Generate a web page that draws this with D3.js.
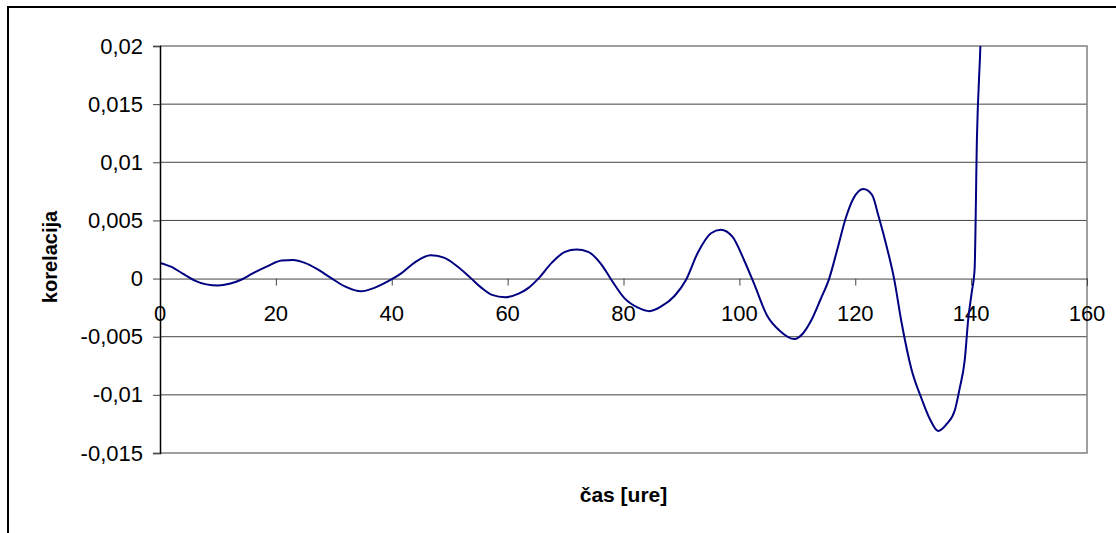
<!DOCTYPE html>
<html>
<head>
  <meta charset="utf-8">
  <style>
    body { margin: 0; background: #fff; }
    text { font-family: "Liberation Sans", Arial, sans-serif; }
  </style>
</head>
<body>
  <script src="https://cdn.jsdelivr.net/npm/d3@7"></script>
  <script>
    // data: time in hours, correlation value
    var hours = [0, 2, 4, 6, 8, 10, 12, 14, 16, 18.5, 21, 23, 25, 27, 29.5, 32, 34.7, 37, 39.4, 41.5,
                 44, 46.7, 49, 51.3, 53.6, 55.5, 57.3, 59.6, 61.9, 63.6, 65.3, 67.6, 69.9, 71.9, 73.9,
                 76.2, 77.9, 80.2, 82.5, 84.5, 86.5, 88.8, 90.8, 92.8, 95.1, 96.8, 98.8, 100.8, 102.5,
                 104.8, 107, 109.5, 111, 112.3, 114, 115.5, 116.9, 118.3, 119.7, 121.4, 122.9, 124,
                 125.4, 126.7, 128, 129.7, 131.5, 132.9, 134.3, 135.8, 137.2, 138, 138.9, 139.5, 140.1,
                 140.6, 141, 141.6, 142.2];
    var korelacija = [0.00135, 0.0010, 0.0004, -0.00017, -0.0005, -0.0006, -0.00045, -0.0001, 0.00045, 0.00105,
                      0.00155, 0.0016, 0.00135, 0.00085, 0.00006, -0.0007, -0.0011, -0.0008, -0.00023, 0.0004,
                      0.0014, 0.002, 0.0018, 0.00106, 0.00006, -0.0008, -0.0014, -0.0016, -0.0013, -0.0008,
                      0, 0.00135, 0.0023, 0.0025, 0.0023, 0.0012, -0.0001, -0.0017, -0.0025, -0.0028,
                      -0.0024, -0.0015, -0.0001, 0.0022, 0.0039, 0.0042, 0.0036, 0.0016, -0.0004, -0.0032,
                      -0.0045, -0.0052, -0.0047, -0.0037, -0.0018, 0, 0.0025, 0.0051, 0.0069, 0.0077,
                      0.0072, 0.0054, 0.0028, 0, -0.0038, -0.0078, -0.0104, -0.0121, -0.0131, -0.0125,
                      -0.0113, -0.0095, -0.007, -0.0035, -0.0012, 0.0008, 0.012, 0.02, 0.03];

    var xTicks = [0, 20, 40, 60, 80, 100, 120, 140, 160];
    var yTicks = [-0.015, -0.01, -0.005, 0, 0.005, 0.01, 0.015, 0.02];
    var yTickLabels = ["-0,015", "-0,01", "-0,005", "0", "0,005", "0,01", "0,015", "0,02"];

    var width = 1116;
    var height = 533;
    var margin = {top: 46, right: 29, bottom: 80, left: 160};

    var x = d3.scaleLinear().domain([0, 160]).range([margin.left, width - margin.right]);
    var y = d3.scaleLinear().domain([-0.015, 0.02]).range([height - margin.bottom, margin.top]);

    var svg = d3.select("body")
                .append("svg")
                .attr("width", width)
                .attr("height", height);

    // outer chart frame (runs off the right/bottom edge)
    svg.append("rect")
       .attr("x", 8).attr("y", 7)
       .attr("width", width + 20).attr("height", height + 20)
       .attr("fill", "none")
       .attr("stroke", "#000")
       .attr("stroke-width", 2);

    // horizontal gridlines
    svg.append("g")
       .selectAll("line")
       .data(yTicks.filter(function (d) { return d !== 0 && d !== -0.015 && d !== 0.02; }))
       .enter()
       .append("line")
       .attr("x1", x(0)).attr("x2", x(160))
       .attr("y1", function (d) { return y(d); })
       .attr("y2", function (d) { return y(d); })
       .attr("stroke", "#444")
       .attr("stroke-width", 1);

    // plot area border: top, right, bottom in grey
    svg.append("path")
       .attr("d", "M" + x(0) + "," + y(0.02) + "H" + x(160) + "V" + y(-0.015) + "H" + x(0))
       .attr("fill", "none")
       .attr("stroke", "#808080")
       .attr("stroke-width", 1.5);

    // X axis along zero
    var x_axis = d3.axisBottom(x).tickValues(xTicks).tickSize(7).tickFormat("");
    var gx = svg.append("g")
       .attr("id", "x_axis")
       .attr("transform", "translate(0," + y(0) + ")")
       .call(x_axis);
    gx.select(".domain").attr("stroke", "#444");
    gx.selectAll(".tick line").attr("stroke", "#444");

    svg.append("g")
       .selectAll("text")
       .data(xTicks)
       .enter()
       .append("text")
       .attr("x", function (d) { return x(d); })
       .attr("y", y(0) + 42)
       .attr("text-anchor", "middle")
       .attr("font-size", 22)
       .text(function (d) { return d; });

    // line
    svg.append("clipPath").attr("id", "clip")
       .append("rect")
       .attr("x", x(0)).attr("y", y(0.02))
       .attr("width", x(160) - x(0)).attr("height", y(-0.015) - y(0.02));

    var points = hours.map(function (h, i) { return [h, korelacija[i]]; });
    var line = d3.line()
                 .x(function (d) { return x(d[0]); })
                 .y(function (d) { return y(d[1]); })
                 .curve(d3.curveMonotoneX);

    svg.append("path")
       .datum(points)
       .attr("clip-path", "url(#clip)")
       .attr("d", line)
       .attr("fill", "none")
       .attr("stroke", "#000080")
       .attr("stroke-width", 2);

    // Y axis
    var y_axis = d3.axisLeft(y).tickValues(yTicks).tickSize(7)
                   .tickFormat(function (d, i) { return yTickLabels[i]; });
    var gy = svg.append("g")
       .attr("id", "y_axis")
       .attr("transform", "translate(" + x(0) + ",0)")
       .call(y_axis);
    gy.select(".domain").attr("stroke", "#000").attr("stroke-width", 1.5);
    gy.selectAll(".tick line").attr("stroke", "#444");
    gy.selectAll(".tick text")
      .attr("font-size", 22)
      .attr("font-family", "Liberation Sans, Arial, sans-serif")
      .attr("fill", "#000")
      .attr("x", -17);

    // axis titles
    svg.append("text")
       .attr("x", (x(0) + x(160)) / 2)
       .attr("y", 502)
       .attr("text-anchor", "middle")
       .attr("font-size", 21)
       .attr("font-weight", "bold")
       .text("čas [ure]");

    svg.append("text")
       .attr("transform", "translate(57,257) rotate(-90)")
       .attr("text-anchor", "middle")
       .attr("font-size", 20)
       .attr("font-weight", "bold")
       .text("korelacija");
  </script>
</body>
</html>
